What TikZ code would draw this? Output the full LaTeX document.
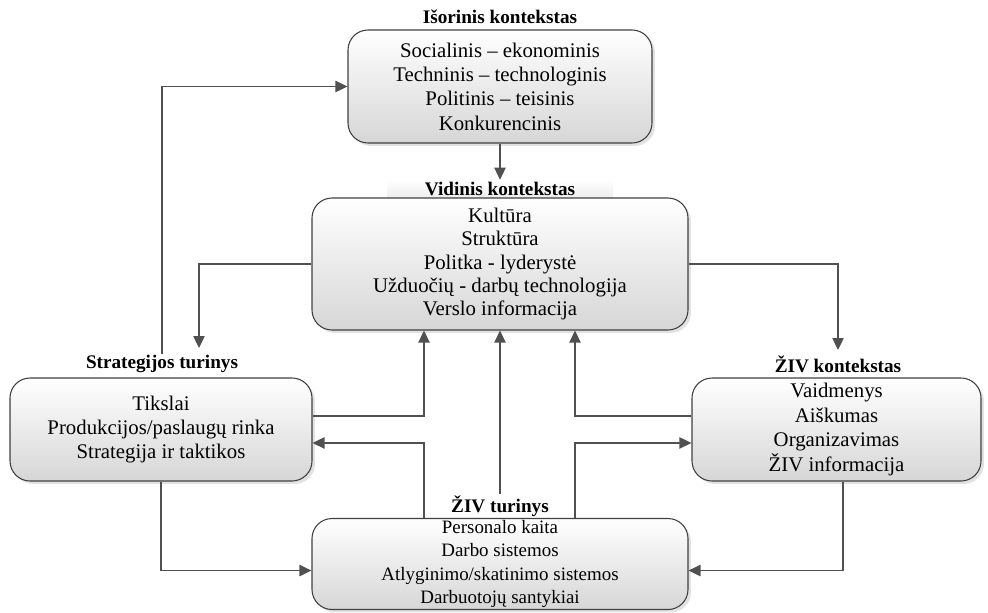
\documentclass[tikz,border=0pt]{standalone}
\usepackage{fontspec}
\setmainfont{Liberation Serif}
\usetikzlibrary{arrows.meta,shadows,calc}
\definecolor{edgecol}{HTML}{404040}
\definecolor{conncol}{HTML}{505050}
\begin{document}
\begin{tikzpicture}[x=0.75pt,y=-0.75pt,
  box/.style={draw=edgecol, line width=0.8pt, rounded corners=15pt,
    top color=white, bottom color=gray!32,
    drop shadow={shadow xshift=2.2pt, shadow yshift=-2.2pt, fill=gray!45, opacity=0.5},
    inner sep=0pt, align=center, font=\fontsize{15.6}{18.3}\selectfont},
  lbl/.style={font=\bfseries\fontsize{14.4}{16}\selectfont, inner sep=1pt},
  conn/.style={draw=conncol, line width=0.9pt, -{Triangle[length=9pt,width=8.5pt]}}
]
\useasboundingbox (0,0) rectangle (988,612);

% boxes and labels
\node[box, minimum width=304*0.75pt, minimum height=113*0.75pt] (ext) at (500,86.5)
  {Socialinis – ekonominis\\Techninis – technologinis\\Politinis – teisinis\\Konkurencinis};
\node[lbl] (lext) at (500,17) {Išorinis kontekstas};

\node[lbl, top color=white, bottom color=gray!14, minimum width=226*0.75pt, minimum height=18*0.75pt] (lint) at (500,189) {Vidinis kontekstas};
\node[box, font=\fontsize{15.6}{17.5}\selectfont, minimum width=376*0.75pt, minimum height=132*0.75pt] (int) at (500,264)
  {Kultūra\\Struktūra\\Politka - lyderystė\\Užduočių - darbų technologija\\Verslo informacija};

\node[box, minimum width=302*0.75pt, minimum height=103*0.75pt] (strat) at (161,429.5)
  {Tikslai\\Produkcijos/paslaugų rinka\\Strategija ir taktikos};
\node[lbl] (lstrat) at (162,364) {Strategijos turinys};

\node[box, minimum width=289*0.75pt, minimum height=103*0.75pt] (zivk) at (836.5,429.5)
  {Vaidmenys\\Aiškumas\\Organizavimas\\ŽIV informacija};
\node[lbl] (lzivk) at (838,364) {ŽIV kontekstas};

\node[box, font=\fontsize{14.2}{17.5}\selectfont, minimum width=376*0.75pt, minimum height=91*0.75pt] (zivt) at (500,564)
  {Personalo kaita\\Darbo sistemos\\Atlyginimo/skatinimo sistemos\\Darbuotojų santykiai};
\node[lbl] (lzivt) at (500,506) {ŽIV turinys};

% connectors
\coordinate (tipL) at (199,348);
\coordinate (tipR) at (838,350);
\draw[conn] (ext.south) -- (lint.north);
\draw[conn] (lstrat.north) |- (ext.west);
\draw[conn] (int.west) -| (tipL);
\draw[conn] (int.east) -| (tipR);
\draw[conn] ([yshift=10.1pt]strat.east) -| ([xshift=-57pt]int.south);
\draw[conn] ([yshift=10.1pt]zivk.west) -| ([xshift=56.25pt]int.south);
\draw[conn] (lzivt.north) -- (lzivt.north |- int.south);
\draw[conn] ([xshift=-57pt]zivt.north) |- ([yshift=-10.1pt]strat.east);
\draw[conn] ([xshift=56.25pt]zivt.north) |- ([yshift=-10.1pt]zivk.west);
\draw[conn] (strat.south) |- ([yshift=-4.9pt]zivt.west);
\draw[conn] ([xshift=4.9pt]zivk.south) |- ([yshift=-4.9pt]zivt.east);
\end{tikzpicture}
\end{document}
